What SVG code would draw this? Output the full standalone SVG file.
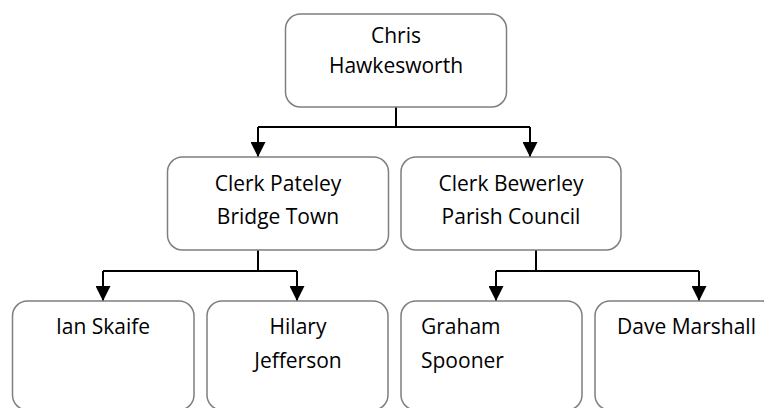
<svg xmlns="http://www.w3.org/2000/svg" width="764" height="408" viewBox="0 0 764 408">
<style>
.box{fill:#fff;stroke:#7f7f7f;stroke-width:1.5}
.t{font-family:"Open Sans","Noto Sans","Liberation Sans",sans-serif;font-size:21px;fill:#000}
.c{text-anchor:middle}
.ln{fill:none;stroke:#000;stroke-width:2}
</style>
<defs>
<marker id="ah" markerWidth="16" markerHeight="15" refX="15" refY="7.5" orient="auto" markerUnits="userSpaceOnUse">
<path d="M0,0 L15,7.5 L0,15 Z" fill="#000"/>
</marker>
</defs>
<rect width="764" height="408" fill="#fff"/>
<g id="connectors">
<path class="ln" d="M396,107 V127"/>
<path class="ln" d="M258,127 H530"/>
<path class="ln" d="M258,127 V157" marker-end="url(#ah)"/>
<path class="ln" d="M530,127 V157" marker-end="url(#ah)"/>
<path class="ln" d="M258,250 V271"/>
<path class="ln" d="M103,271 H297"/>
<path class="ln" d="M103,271 V301" marker-end="url(#ah)"/>
<path class="ln" d="M297,271 V301" marker-end="url(#ah)"/>
<path class="ln" d="M536,250 V271"/>
<path class="ln" d="M496,271 H699"/>
<path class="ln" d="M496,271 V301" marker-end="url(#ah)"/>
<path class="ln" d="M699,271 V301" marker-end="url(#ah)"/>
</g>
<g id="chris">
<rect class="box" x="285.5" y="14" width="221" height="93" rx="15"/>
<text class="t c" x="396" y="43">Chris</text>
<text class="t c" x="396" y="73">Hawkesworth</text>
</g>
<g id="pateley">
<rect class="box" x="167.5" y="157" width="221" height="93" rx="15"/>
<text class="t c" x="278" y="191">Clerk Pateley</text>
<text class="t c" x="278" y="224">Bridge Town</text>
</g>
<g id="bewerley">
<rect class="box" x="401" y="157" width="220" height="93" rx="15"/>
<text class="t c" x="511" y="191">Clerk Bewerley</text>
<text class="t c" x="511" y="224">Parish Council</text>
</g>
<g id="ian">
<rect class="box" x="12.5" y="301" width="181.5" height="109" rx="15"/>
<text class="t c" x="103" y="334">Ian Skaife</text>
</g>
<g id="hilary">
<rect class="box" x="207" y="301" width="181" height="109" rx="15"/>
<text class="t c" x="298" y="334">Hilary</text>
<text class="t c" x="298" y="368">Jefferson</text>
</g>
<g id="graham">
<rect class="box" x="401" y="301" width="181" height="109" rx="15"/>
<text class="t" x="421" y="334">Graham</text>
<text class="t" x="421" y="368">Spooner</text>
</g>
<g id="dave">
<rect class="box" x="595" y="301" width="182" height="109" rx="15"/>
<text class="t" x="617" y="334">Dave Marshall</text>
</g>
</svg>
